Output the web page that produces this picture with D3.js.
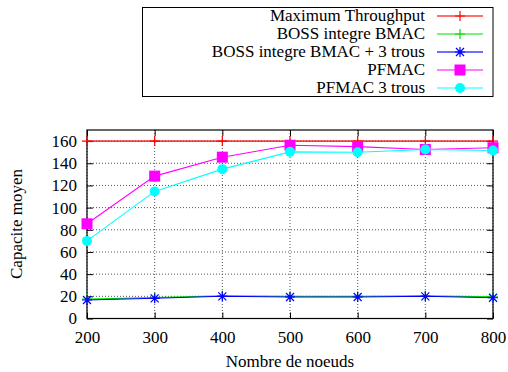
<!DOCTYPE html>
<html><head><meta charset="utf-8">
<script src="https://cdn.jsdelivr.net/npm/d3@7"></script>
<style>body{margin:0;background:#fff}svg{display:block}</style>
</head><body>
<svg id="c" width="508" height="372"></svg>
<script>
const xValues = [200, 300, 400, 500, 600, 700, 800];
const maxThroughput = [160, 160, 160, 160, 160, 160, 160];
const bossBmac = [17.5, 19, 20.5, 20, 20, 20.5, 19.5];
const bossBmac3 = [16.7, 18.2, 20, 19.4, 19.4, 20, 18.7];
const pfmac = [85.4, 128.4, 145.5, 156.3, 155, 152.4, 154];
const pfmac3 = [70, 114.6, 134.7, 150.3, 150, 152.4, 151.5];
const yTicks = [0, 20, 40, 60, 80, 100, 120, 140, 160];
const xTicks = [200, 300, 400, 500, 600, 700, 800];
const seriesNames = ["Maximum Throughput", "BOSS integre BMAC", "BOSS integre BMAC + 3 trous", "PFMAC", "PFMAC 3 trous"];
const seriesColors = ["#ff0000", "#00e000", "#0000ff", "#ff00ff", "#00ffff"];
const seriesMarkers = ["plus", "plus", "star", "square", "circle"];
const seriesData = [maxThroughput, bossBmac, bossBmac3, pfmac, pfmac3];

const FONT = "font-family:'Liberation Serif',serif;font-size:17px;fill:#000";
const svg = d3.select("#c");
const L = 87, R = 493, T = 130, B = 318.5;
const x = d3.scaleLinear().domain([200, 800]).range([L, R]);
const y = d3.scaleLinear().domain([0, 170]).range([B, T]);

// grid
const g = svg.append("g");
yTicks.forEach(v => {
  g.append("line").attr("x1", L).attr("x2", R).attr("y1", y(v)).attr("y2", y(v))
   .attr("stroke", "#555").attr("stroke-width", 1).attr("stroke-dasharray", "1,2");
});
xTicks.forEach(v => {
  g.append("line").attr("x1", x(v)).attr("x2", x(v)).attr("y1", T).attr("y2", B)
   .attr("stroke", "#555").attr("stroke-width", 1).attr("stroke-dasharray", "1,2");
});

// axes
const yAxis = d3.axisLeft(y).tickValues(yTicks).tickSize(-6).tickPadding(10);
const yAxisR = d3.axisRight(y).tickValues(yTicks).tickSize(-6).tickFormat("");
const xAxis = d3.axisBottom(x).tickValues(xTicks).tickSize(-6).tickPadding(12);
const xAxisT = d3.axisTop(x).tickValues(xTicks).tickSize(-6).tickFormat("");
function style(sel){ sel.select(".domain").remove(); sel.selectAll("line").attr("stroke","#000");
  sel.selectAll("text").attr("style", FONT); }
svg.append("g").attr("transform", `translate(${L},0)`).call(yAxis).call(style);
svg.append("g").attr("transform", `translate(${R},0)`).call(yAxisR).call(style);
svg.append("g").attr("transform", `translate(0,${B})`).call(xAxis).call(style);
svg.append("g").attr("transform", `translate(0,${T})`).call(xAxisT).call(style);
svg.append("rect").attr("x", L).attr("y", T).attr("width", R - L).attr("height", B - T)
  .attr("fill", "none").attr("stroke", "#000").attr("stroke-width", 1.2);

// labels
svg.append("text").attr("x", 290).attr("y", 367).attr("text-anchor", "middle").attr("style", FONT).text("Nombre de noeuds");
svg.append("text").attr("transform", "translate(22,224) rotate(-90)").attr("text-anchor", "middle").attr("style", FONT).text("Capacite moyen");

function marker(sel, type, color, cx, cy) {
  if (type === "plus") {
    sel.append("path").attr("d", `M${cx-5},${cy}H${cx+5}M${cx},${cy-5}V${cy+5}`).attr("stroke", color).attr("stroke-width", 1.2).attr("fill", "none");
  } else if (type === "star") {
    sel.append("path").attr("d", `M${cx-5},${cy}H${cx+5}M${cx},${cy-5}V${cy+5}M${cx-4},${cy-4}L${cx+4},${cy+4}M${cx-4},${cy+4}L${cx+4},${cy-4}`).attr("stroke", color).attr("stroke-width", 1.2).attr("fill", "none");
  } else if (type === "square") {
    sel.append("rect").attr("x", cx - 5.5).attr("y", cy - 5.5).attr("width", 11).attr("height", 11).attr("fill", color);
  } else {
    sel.append("circle").attr("cx", cx).attr("cy", cy).attr("r", 5).attr("fill", color);
  }
}

const line = d3.line().x((d, i) => x(xValues[i])).y(d => y(d));
seriesData.forEach((data, k) => {
  const gs = svg.append("g");
  gs.append("path").datum(data).attr("d", line).attr("fill", "none")
    .attr("stroke", seriesColors[k]).attr("stroke-width", k === 0 ? 1.6 : 1.1).attr("stroke-opacity", k === 0 ? 0.75 : 1);
  data.forEach((v, i) => marker(gs, seriesMarkers[k], seriesColors[k], x(xValues[i]), y(v)));
});

// legend
svg.append("rect").attr("x", 142.5).attr("y", 7.5).attr("width", 350.5).attr("height", 89)
  .attr("fill", "#fff").attr("stroke", "#000").attr("stroke-width", 1);
const rowY = [16, 34, 52, 70, 88];
seriesNames.forEach((n, k) => {
  svg.append("text").attr("x", 425).attr("y", rowY[k] + 5).attr("text-anchor", "end").attr("style", FONT).text(n);
  svg.append("line").attr("x1", 437).attr("x2", 483).attr("y1", rowY[k]).attr("y2", rowY[k])
    .attr("stroke", seriesColors[k]).attr("stroke-width", k === 0 || k === 2 ? 1.6 : 1.1).attr("stroke-opacity", k === 0 || k === 2 ? 0.75 : 1);
  marker(svg, seriesMarkers[k], seriesColors[k], 460, rowY[k]);
});
</script>
</body></html>
